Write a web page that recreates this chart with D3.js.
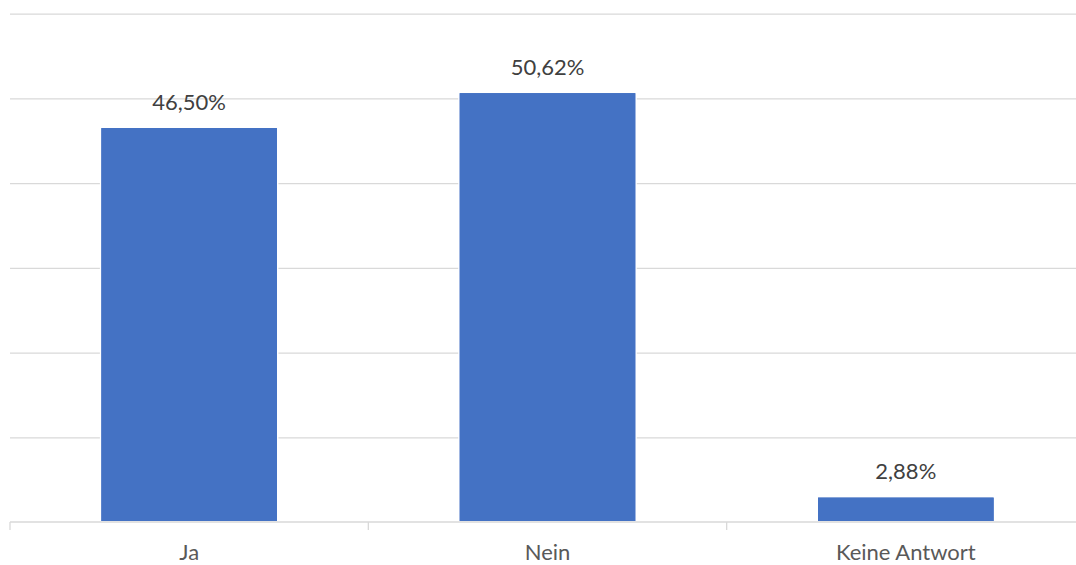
<!DOCTYPE html>
<html>
<head>
<meta charset="utf-8">
<script src="https://cdn.jsdelivr.net/npm/d3@7"></script>
<style>
  html, body { margin: 0; padding: 0; background: #fff; }
  svg { display: block; font-family: Lato, "Open Sans", sans-serif; }
</style>
</head>
<body>
<svg id="chart" width="1076" height="565"></svg>
<script>
var categories = ["Ja", "Nein", "Keine Antwort"];
var values = [46.50, 50.62, 2.88];
var valueLabels = ["46,50%", "50,62%", "2,88%"];
var gridTicks = [0, 10, 20, 30, 40, 50, 60];

var plotLeft = 10, plotRight = 1085, plotTop = 12, plotBottom = 522;

var svg = d3.select("#chart");

var xScale = d3.scaleBand()
    .domain(categories)
    .range([plotLeft, plotRight])
    .paddingInner(0.51)
    .paddingOuter(0.255);

var yScale = d3.scaleLinear()
    .domain([0, 60.2])
    .range([plotBottom, plotTop]);

// gridlines
var grid = svg.append("g")
    .attr("transform", `translate(${plotLeft},0)`)
    .call(d3.axisLeft(yScale).tickValues(gridTicks.slice(1)).tickSize(-(plotRight - plotLeft)).tickFormat(""));
grid.select(".domain").remove();
grid.selectAll(".tick line")
    .attr("stroke", "#d9d9d9")
    .attr("stroke-width", 1.3);

// bars, with a white outline like the original
svg.append("g").selectAll("rect")
  .data(values)
  .join("rect")
    .attr("x", (d, i) => xScale(categories[i]))
    .attr("y", d => yScale(d))
    .attr("width", xScale.bandwidth())
    .attr("height", d => yScale(0) - yScale(d) - 1)
    .attr("fill", "#4472c4")
    .attr("stroke", "#fff")
    .attr("stroke-width", 3)
    .attr("paint-order", "stroke");

svg.append("g").selectAll("rect")
  .data(values)
  .join("rect")
    .attr("x", (d, i) => xScale(categories[i]))
    .attr("y", d => yScale(d))
    .attr("width", xScale.bandwidth())
    .attr("height", d => yScale(0) - yScale(d) - 1)
    .attr("fill", "#4472c4");

// value labels
svg.append("g").selectAll("text")
  .data(values)
  .join("text")
    .attr("x", (d, i) => xScale(categories[i]) + xScale.bandwidth() / 2)
    .attr("y", d => yScale(d) - 18.5)
    .attr("text-anchor", "middle")
    .attr("fill", "#404040")
    .attr("font-size", 22)
    .text((d, i) => valueLabels[i]);

// x axis: baseline, category boundary ticks, labels
var xAxis = svg.append("g")
    .attr("transform", `translate(0,${plotBottom})`)
    .call(d3.axisBottom(xScale).tickSize(0).tickPadding(0));
xAxis.select(".domain").remove();
xAxis.selectAll(".tick text")
    .attr("dy", 0)
    .attr("y", 38)
    .attr("fill", "#595959")
    .attr("font-size", 22)
    .attr("font-family", "Lato, 'Open Sans', sans-serif");

xAxis.append("line")
    .attr("x1", plotLeft)
    .attr("x2", plotRight)
    .attr("stroke", "#d9d9d9")
    .attr("stroke-width", 1.6);

var step = xScale.step();
xAxis.selectAll(".bound")
  .data(d3.range(categories.length + 1))
  .join("line")
    .attr("class", "bound")
    .attr("x1", i => plotLeft + i * step)
    .attr("x2", i => plotLeft + i * step)
    .attr("y1", 0)
    .attr("y2", 8)
    .attr("stroke", "#d9d9d9")
    .attr("stroke-width", 1.3);
</script>
</body>
</html>
